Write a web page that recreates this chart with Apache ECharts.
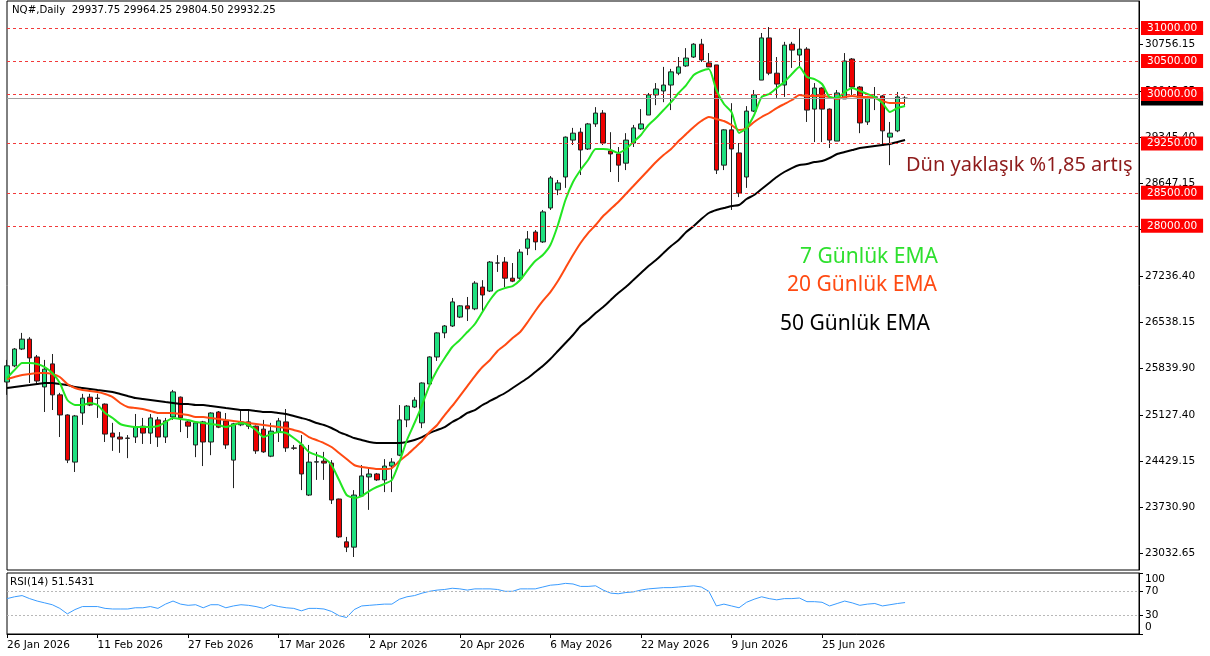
<!DOCTYPE html>
<html>
<head>
<meta charset="utf-8">
<title>NQ# Daily</title>
<script src="https://cdn.jsdelivr.net/npm/echarts@6.0.0/dist/echarts.min.js"></script>
<style>
html, body { margin: 0; padding: 0; background: #fff; }
#chart { width: 1210px; height: 656px; }
</style>
</head>
<body>
<div id="chart"></div>
<script>
// gunluk mumlar: [acilis, kapanis, dusuk, yuksek]
var candles = [
    [25630, 25875, 25435, 25965], [25875, 26130, 25855, 26145], [26130, 26280, 26115, 26375], [26280, 25995, 25615, 26310],
    [26010, 25645, 25585, 26040], [25555, 25825, 25175, 25965], [25905, 25435, 25205, 26055], [25435, 25130, 24795, 25465],
    [25130, 24445, 24400, 25140], [24415, 25115, 24265, 25130], [25160, 25385, 24980, 25450], [25400, 25280, 25265, 25450],
    [25385, 25380, 25085, 25450], [25295, 24840, 24720, 25305], [24855, 24795, 24585, 25010], [24795, 24765, 24555, 24870],
    [24780, 24775, 24475, 24825], [24795, 24945, 24705, 25145], [24960, 24855, 24690, 25085], [24855, 25085, 24690, 25145],
    [25055, 24795, 24645, 25100], [24795, 25040, 24705, 25085], [25100, 25480, 25055, 25510], [25400, 25085, 24870, 25410],
    [25025, 24960, 24780, 25040], [24675, 25010, 24490, 25025], [25025, 24720, 24355, 25040], [24720, 25160, 24520, 25170],
    [25175, 24945, 24930, 25190], [25040, 24675, 24615, 25160], [24445, 24995, 24020, 25010], [24980, 25025, 24960, 25190],
    [25025, 24960, 24915, 25190], [24960, 24585, 24540, 24970], [24915, 24570, 24555, 25055], [24505, 24885, 24490, 25010],
    [24870, 25040, 24720, 25085], [25025, 24630, 24570, 25220], [24630, 24625, 24600, 24675], [24675, 24235, 23990, 24825],
    [23915, 24415, 23900, 24675], [24415, 24420, 24145, 24570], [24430, 24400, 24145, 24570], [24400, 23840, 23780, 24445],
    [23855, 23280, 23265, 23860], [23205, 23125, 23050, 23280], [23125, 23915, 22975, 23990], [23900, 24205, 23885, 24370],
    [24190, 24235, 23690, 24340], [24235, 24145, 24130, 24250], [24145, 24355, 23960, 24460], [24355, 24415, 23960, 24475],
    [24520, 25055, 24505, 25280], [25055, 25265, 24945, 25280], [25250, 25355, 25235, 25400], [25010, 25615, 24930, 25625],
    [25600, 26010, 25585, 26020], [26010, 26375, 25950, 26385], [26375, 26480, 26295, 26495], [26480, 26845, 26465, 26905],
    [26615, 26785, 26600, 26795], [26785, 26740, 26555, 26920], [26740, 27130, 26720, 27160], [27070, 26950, 26690, 27175],
    [27010, 27450, 26995, 27465], [27435, 27435, 27300, 27555], [27450, 27205, 27070, 27525], [27205, 27160, 27145, 27435],
    [27205, 27600, 27175, 27645], [27660, 27800, 27555, 27920], [27905, 27755, 27630, 27935], [27755, 28210, 27740, 28240],
    [28270, 28725, 28240, 28755], [28545, 28650, 28465, 28695], [28740, 29345, 28575, 29355], [29300, 29405, 29225, 29485],
    [29420, 29150, 28770, 29485], [29165, 29545, 29150, 29560], [29545, 29710, 29500, 29800], [29710, 29255, 29225, 29755],
    [29135, 29090, 28815, 29420], [29090, 28920, 28665, 29195], [28950, 29300, 28845, 29405], [29255, 29485, 29195, 29530],
    [29470, 29545, 29455, 29770], [29680, 29985, 29680, 30015], [29985, 30075, 29830, 30165], [30045, 30135, 29875, 30410],
    [30135, 30335, 29755, 30380], [30315, 30410, 30285, 30560], [30425, 30545, 30410, 30695], [30560, 30755, 30545, 30770],
    [30755, 30515, 30485, 30835], [30470, 30410, 30410, 30620], [30440, 28845, 28785, 30440], [28920, 29455, 28845, 29465],
    [29455, 29165, 28240, 29860], [29105, 28495, 28435, 29255], [28740, 29740, 28575, 29815], [29740, 29985, 29725, 30060],
    [30210, 30850, 30210, 30925], [30850, 30315, 30285, 31015], [30315, 30150, 29940, 30560], [30135, 30740, 29955, 30790],
    [30755, 30665, 30395, 30790], [30590, 30680, 30395, 31000], [30680, 29755, 29575, 30710], [29770, 30090, 29270, 30165],
    [30090, 29770, 29270, 30100], [29770, 29300, 29180, 29780], [29285, 30015, 29285, 30060], [29925, 30500, 29925, 30620],
    [30530, 30105, 29985, 30545], [30105, 29560, 29405, 30120], [29575, 29940, 29530, 29970], [29950, 29955, 29755, 30105],
    [29970, 29440, 29225, 29985], [29345, 29405, 28920, 29575], [29440, 29955, 29420, 30030], [29937.75, 29932.25, 29804.5, 29964.25]
];

var ema7 = [
    25691, 25812, 25918, 25918, 25903, 25857, 25766, 25615, 25357, 25281, 25281, 25311, 25281, 25160, 25084, 24993,
    24962, 24947, 24947, 24947, 24962, 25023, 25084, 25069, 25053, 25023, 25008, 24993, 24978, 24947, 24978, 25008,
    24978, 24902, 24795, 24841, 24871, 24856, 24780, 24689, 24568, 24522, 24477, 24371, 24143, 23916, 23870, 23900,
    23976, 24037, 24083, 24143, 24416, 24750, 25008, 25281, 25584, 25812, 25994, 26161, 26267, 26388, 26510, 26692,
    26874, 27010, 27056, 27086, 27177, 27329, 27465, 27556, 27708, 28012, 28391, 28664, 28846, 28998, 29164, 29164,
    29149, 29104, 29164, 29271, 29377, 29529, 29635, 29756, 29877, 30014, 30135, 30287, 30348, 30378, 30060, 29847,
    29726, 29407, 29483, 29680, 29953, 29999, 30090, 30181, 30302, 30408, 30257, 30226, 30151, 29953, 29938, 30029,
    30090, 30044, 29999, 29953, 29862, 29726, 29786, 29817
];

var ema20 = [
    25675, 25706, 25736, 25751, 25766, 25766, 25751, 25706, 25600, 25539, 25508, 25493, 25478, 25448, 25402, 25311,
    25251, 25235, 25220, 25190, 25160, 25160, 25160, 25144, 25129, 25099, 25099, 25084, 25069, 25053, 25038, 25023,
    25008, 24993, 24978, 24962, 24947, 24932, 24902, 24871, 24795, 24750, 24704, 24644, 24553, 24462, 24371, 24340,
    24325, 24310, 24310, 24325, 24431, 24522, 24629, 24735, 24871, 24978, 25129, 25266, 25417, 25569, 25721, 25857,
    25964, 26100, 26191, 26297, 26388, 26540, 26707, 26859, 26995, 27162, 27359, 27556, 27739, 27890, 28012, 28148,
    28254, 28360, 28482, 28603, 28725, 28846, 28967, 29073, 29164, 29286, 29392, 29498, 29589, 29650, 29620, 29589,
    29529, 29453, 29483, 29574, 29650, 29711, 29786, 29847, 29908, 29984, 29968, 29968, 29968, 29953, 29923, 29953,
    29968, 29953, 29953, 29938, 29893, 29862, 29862, 29862
];

var ema50 = [
    25539, 25554, 25569, 25584, 25600, 25615, 25615, 25600, 25584, 25554, 25539, 25524, 25508, 25493, 25478, 25448,
    25417, 25387, 25372, 25357, 25342, 25326, 25311, 25296, 25296, 25281, 25281, 25266, 25251, 25235, 25220, 25205,
    25205, 25190, 25175, 25175, 25160, 25144, 25114, 25084, 25053, 25008, 24978, 24932, 24871, 24826, 24780, 24750,
    24720, 24704, 24704, 24704, 24704, 24720, 24750, 24795, 24856, 24902, 24947, 25023, 25084, 25160, 25205, 25281,
    25342, 25402, 25463, 25539, 25615, 25691, 25782, 25873, 25979, 26100, 26222, 26343, 26479, 26570, 26677, 26768,
    26874, 26980, 27071, 27177, 27283, 27390, 27481, 27587, 27693, 27784, 27905, 27996, 28103, 28194, 28239, 28269,
    28300, 28315, 28406, 28467, 28558, 28649, 28740, 28816, 28876, 28922, 28937, 28967, 28982, 29028, 29089, 29119,
    29149, 29180, 29195, 29210, 29225, 29240, 29271, 29301
];

var rsi14 = [
    58, 61, 63, 58, 54, 51, 48, 42, 33, 40, 45, 45, 45, 42, 41, 41,
    41, 43, 43, 45, 42, 49, 54, 49, 47, 48, 43, 48, 48, 43, 46, 48,
    47, 45, 42, 48, 45, 43, 42, 38, 42, 42, 41, 37, 30, 27, 40, 46,
    47, 48, 49, 49, 57, 61, 63, 67, 70, 72, 73, 75, 74, 72, 74, 74,
    74, 73, 70, 70, 74, 74, 74, 77, 80, 81, 83, 82, 78, 78, 79, 72,
    67, 66, 68, 69, 72, 74, 75, 76, 76, 77, 78, 79, 77, 70, 46, 49,
    46, 43, 52, 57, 61, 58, 56, 58, 58, 59, 53, 53, 52, 46, 50, 54,
    51, 47, 49, 50, 46, 48, 50, 51.54
];

var dateLabels = ['26 Jan 2026', '11 Feb 2026', '27 Feb 2026', '17 Mar 2026', '2 Apr 2026',
    '20 Apr 2026', '6 May 2026', '22 May 2026', '9 Jun 2026', '25 Jun 2026'];
var priceTicks = [30756.15, 30043.65, 29345.40, 28647.15, 27948.90, 27236.40, 26538.15,
    25839.90, 25127.40, 24429.15, 23730.90, 23032.65];
var levels = [31000, 30500, 30000, 29250, 28500, 28000];
var rsiTicks = [0, 30, 70, 100];
var lastPrice = 29932.25;

var FONT = 'DejaVu Sans';
var SLOTS = 151; // sagda bos alan birakmak icin
var cats = [];
for (var i = 0; i < SLOTS; i++) cats.push(String(i));

function labelAt(i) {
    return i % 12 === 0 && i / 12 < dateLabels.length;
}

var chart = echarts.init(document.getElementById('chart'));

var option = {
    animation: false,
    backgroundColor: '#fff',
    title: [{
        text: 'NQ#,Daily  29937.75 29964.25 29804.50 29932.25',
        left: 12, top: 5, padding: 0,
        textStyle: { fontFamily: FONT, fontSize: 10.2, fontWeight: 'normal', color: '#000' }
    }, {
        text: 'RSI(14) 51.5431',
        left: 10, top: 577, padding: 0,
        textStyle: { fontFamily: FONT, fontSize: 10.4, fontWeight: 'normal', color: '#000' }
    }],
    grid: [
        { left: 7, right: 71, top: 1, height: 569, show: true, borderColor: '#000', borderWidth: 1 },
        { left: 7, right: 71, top: 573, height: 61, show: true, borderColor: '#000', borderWidth: 1 }
    ],
    xAxis: [{
        type: 'category', gridIndex: 0, data: cats, boundaryGap: false, show: false
    }, {
        type: 'category', gridIndex: 1, data: cats, boundaryGap: false,
        axisLine: { show: true, lineStyle: { color: '#000' } },
        axisTick: { show: true, length: 4, interval: function (i) { return labelAt(i); }, lineStyle: { color: '#000' } },
        axisLabel: {
            interval: function (i) { return labelAt(i); },
            formatter: function (v, i) { return dateLabels[i / 12]; },
            align: 'left', margin: 6, color: '#000', fontFamily: FONT, fontSize: 10.5
        },
        splitLine: { show: false }
    }],
    yAxis: [{
        type: 'value', gridIndex: 0, position: 'right', min: 22778, max: 31410,
        axisLine: { show: true, lineStyle: { color: '#000' } },
        axisTick: { show: true, length: 4, customValues: priceTicks, lineStyle: { color: '#000' } },
        axisLabel: {
            customValues: priceTicks,
            formatter: function (v) { return v.toFixed(2); },
            margin: 6, color: '#000', fontFamily: FONT, fontSize: 10.5
        },
        splitLine: { show: false }
    }, {
        type: 'value', gridIndex: 1, position: 'right', min: 0, max: 100,
        axisLine: { show: true, lineStyle: { color: '#000' } },
        axisTick: { show: true, length: 4, customValues: rsiTicks, lineStyle: { color: '#000' } },
        axisLabel: {
            customValues: rsiTicks,
            formatter: function (v) {
                if (v === 100) return '{t|100}';
                if (v === 0) return '{b|0}';
                return String(v);
            },
            rich: {
                t: { padding: [13, 0, 0, 0], fontFamily: FONT, fontSize: 10.5, color: '#000' },
                b: { padding: [0, 0, 13, 0], fontFamily: FONT, fontSize: 10.5, color: '#000' }
            },
            margin: 6, color: '#000', fontFamily: FONT, fontSize: 10.5
        },
        splitLine: { show: false }
    }],
    series: [{
        name: 'NQ#', type: 'candlestick', xAxisIndex: 0, yAxisIndex: 0,
        data: candles, barWidth: 5,
        itemStyle: { color: '#1fe07f', color0: '#ee0000', borderColor: '#222', borderColor0: '#222', borderWidth: 1 },
        markLine: {
            silent: true, animation: false, symbol: ['none', 'none'],
            lineStyle: { color: '#f23a3a', type: [3, 3], width: 1 },
            label: {
                position: 'end', distance: 2,
                formatter: function (p) { return p.value.toFixed(2); },
                color: '#fff', backgroundColor: '#ff0000', padding: [2, 6, 1, 6],
                fontFamily: FONT, fontSize: 10.5
            },
            data: [{
                yAxis: lastPrice,
                lineStyle: { color: '#a0a0a0', type: 'solid', width: 1 },
                label: { backgroundColor: '#000' }
            }].concat(levels.map(function (v) { return { yAxis: v }; }))
        }
    }, {
        name: 'EMA50', type: 'line', data: ema50, showSymbol: false, smooth: 0.2,
        lineStyle: { color: '#000', width: 2 }, z: 3
    }, {
        name: 'EMA20', type: 'line', data: ema20, showSymbol: false, smooth: 0.2,
        lineStyle: { color: '#ff4a12', width: 2 }, z: 3
    }, {
        name: 'EMA7', type: 'line', data: ema7, showSymbol: false, smooth: 0.2,
        lineStyle: { color: '#22e622', width: 2 }, z: 3
    }, {
        name: 'RSI', type: 'line', xAxisIndex: 1, yAxisIndex: 1, data: rsi14, showSymbol: false,
        lineStyle: { color: '#3a9cff', width: 1 },
        markLine: {
            silent: true, symbol: ['none', 'none'], label: { show: false },
            lineStyle: { color: '#b8b8b8', type: [2, 2], width: 1 },
            data: [{ yAxis: 70 }, { yAxis: 30 }]
        }
    }],
    graphic: [
        { type: 'text', left: 906, top: 155, style: { text: 'Dün yaklaşık %1,85 artış', fill: '#8e1b1b', font: '20px "Noto Sans"' } },
        { type: 'text', left: 800, top: 247, style: { text: '7 Günlük EMA', fill: '#2ee02e', font: '21px "Noto Sans"' } },
        { type: 'text', left: 787, top: 275, style: { text: '20 Günlük EMA', fill: '#ff4a12', font: '21px "Noto Sans"' } },
        { type: 'text', left: 780, top: 314, style: { text: '50 Günlük EMA', fill: '#000', font: '21px "Noto Sans"' } }
    ]
};

chart.setOption(option);
</script>
</body>
</html>
